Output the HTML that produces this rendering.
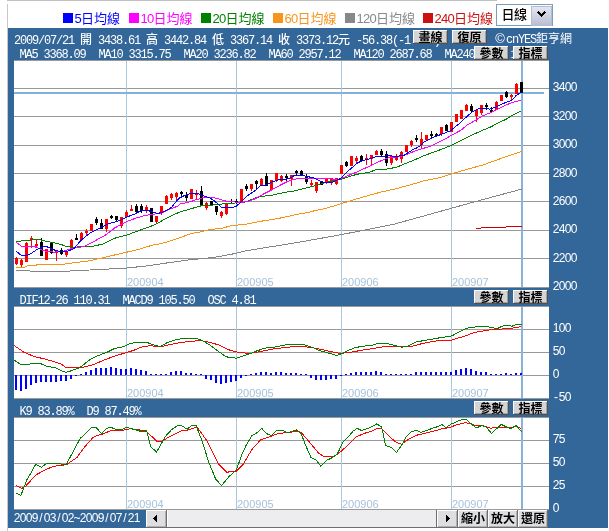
<!DOCTYPE html><html><head><meta charset="utf-8"><title>chart</title><style>html,body{margin:0;padding:0;background:#fff;overflow:hidden}svg{display:block}</style></head><body><svg width="609" height="531" viewBox="0 0 609 531" shape-rendering="crispEdges"><rect x="0" y="0" width="609" height="531" fill="#fff"/>
<rect x="7" y="0" width="490" height="1" fill="#c0c0c0" />
<rect x="7" y="4" width="1" height="527" fill="#c8c8c8" />
<rect x="63.0" y="13" width="10" height="10" fill="#0000ff" />
<text y="22.5" font-size="13" fill="#0000ff" font-family='"Liberation Sans","Noto Sans CJK TC",sans-serif' style="white-space:pre" ><tspan x="74.5 81 94 107">5日均線</tspan></text>
<rect x="129.0" y="13" width="10" height="10" fill="#ff00ff" />
<text y="22.5" font-size="13" fill="#ff00ff" font-family='"Liberation Sans","Noto Sans CJK TC",sans-serif' style="white-space:pre" ><tspan x="140.5 147 153.5 166.5 179.5">10日均線</tspan></text>
<rect x="201.0" y="13" width="10" height="10" fill="#008000" />
<text y="22.5" font-size="13" fill="#008000" font-family='"Liberation Sans","Noto Sans CJK TC",sans-serif' style="white-space:pre" ><tspan x="212.5 219 225.5 238.5 251.5">20日均線</tspan></text>
<rect x="273.0" y="13" width="10" height="10" fill="#f7941d" />
<text y="22.5" font-size="13" fill="#f7941d" font-family='"Liberation Sans","Noto Sans CJK TC",sans-serif' style="white-space:pre" ><tspan x="284.5 291 297.5 310.5 323.5">60日均線</tspan></text>
<rect x="345.0" y="13" width="10" height="10" fill="#888888" />
<text y="22.5" font-size="13" fill="#888888" font-family='"Liberation Sans","Noto Sans CJK TC",sans-serif' style="white-space:pre" ><tspan x="356.5 363 369.5 376 389 402">120日均線</tspan></text>
<rect x="423.0" y="13" width="10" height="10" fill="#cc1111" />
<text y="22.5" font-size="13" fill="#cc1111" font-family='"Liberation Sans","Noto Sans CJK TC",sans-serif' style="white-space:pre" ><tspan x="434.5 441 447.5 454 467 480">240日均線</tspan></text>
<rect x="496" y="4" width="57" height="22" fill="#7f9db9" />
<rect x="497" y="5" width="55" height="20" fill="#ffffff" />
<text y="18.5" font-size="13" fill="#000" font-family='"Liberation Sans","Noto Sans CJK TC",sans-serif' style="white-space:pre" font-weight="500"><tspan x="501.5 514">日線</tspan></text>
<defs><linearGradient id="sg" x1="0" y1="0" x2="0" y2="1"><stop offset="0" stop-color="#e6e8f2"/><stop offset="1" stop-color="#b9bfd3"/></linearGradient></defs>
<rect x="531" y="6" width="20" height="19" fill="url(#sg)" stroke="#b5bccd" stroke-width="1"/>
<path d="M538 12 L541.5 15.5 L545 12" stroke="#000" stroke-width="2" fill="none"/>
<rect x="8" y="28" width="600" height="500" fill="#336699" />
<text y="44" font-size="12" fill="#fff" font-family='"Liberation Mono", monospace' style="white-space:pre" ><tspan x="14 20 26 32 38 44 50 56 62 68 74">2009/07/21 </tspan><tspan x="80" font-family='"Liberation Sans","Noto Sans CJK TC",sans-serif' font-weight='500'>開</tspan><tspan x="92 98 104 110 116 122 128 134 140"> 3438.61 </tspan><tspan x="146" font-family='"Liberation Sans","Noto Sans CJK TC",sans-serif' font-weight='500'>高</tspan><tspan x="158 164 170 176 182 188 194 200 206"> 3442.84 </tspan><tspan x="212" font-family='"Liberation Sans","Noto Sans CJK TC",sans-serif' font-weight='500'>低</tspan><tspan x="224 230 236 242 248 254 260 266 272"> 3367.14 </tspan><tspan x="278" font-family='"Liberation Sans","Noto Sans CJK TC",sans-serif' font-weight='500'>收</tspan><tspan x="290 296 302 308 314 320 326 332"> 3373.12</tspan><tspan x="338" font-family='"Liberation Sans","Noto Sans CJK TC",sans-serif' font-weight='500'>元</tspan><tspan x="350 356 362 368 374 380 386 392 398 404 410 416 422 428 434"> -56.38(-1.64%)</tspan></text>
<text y="58" font-size="12" fill="#fff" font-family='"Liberation Mono", monospace' style="white-space:pre" ><tspan x="19.5 25.5 31.5 37.5 43.5 49.5 55.5 61.5 67.5 73.5 79.5">MA5 3368.09</tspan></text>
<text y="58" font-size="12" fill="#fff" font-family='"Liberation Mono", monospace' style="white-space:pre" ><tspan x="98.5 104.5 110.5 116.5 122.5 128.5 134.5 140.5 146.5 152.5 158.5 164.5">MA10 3315.75</tspan></text>
<text y="58" font-size="12" fill="#fff" font-family='"Liberation Mono", monospace' style="white-space:pre" ><tspan x="183.5 189.5 195.5 201.5 207.5 213.5 219.5 225.5 231.5 237.5 243.5 249.5">MA20 3236.82</tspan></text>
<text y="58" font-size="12" fill="#fff" font-family='"Liberation Mono", monospace' style="white-space:pre" ><tspan x="268.5 274.5 280.5 286.5 292.5 298.5 304.5 310.5 316.5 322.5 328.5 334.5">MA60 2957.12</tspan></text>
<text y="58" font-size="12" fill="#fff" font-family='"Liberation Mono", monospace' style="white-space:pre" ><tspan x="353.5 359.5 365.5 371.5 377.5 383.5 389.5 395.5 401.5 407.5 413.5 419.5 425.5">MA120 2687.68</tspan></text>
<text y="58" font-size="12" fill="#fff" font-family='"Liberation Mono", monospace' style="white-space:pre" ><tspan x="444.5 450.5 456.5 462.5 468.5 474.5 480.5 486.5 492.5 498.5 504.5 510.5 516.5">MA240 2420.11</tspan></text>
<rect x="413" y="30" width="35" height="14" fill="#d4d4d4" />
<rect x="413" y="30" width="35" height="1" fill="#ffffff" />
<rect x="413" y="30" width="1" height="14" fill="#ffffff" />
<rect x="413" y="43" width="35" height="1" fill="#505050" />
<rect x="447" y="30" width="1" height="14" fill="#505050" />
<rect x="414" y="42" width="33" height="1" fill="#a0a0a0" />
<rect x="446" y="31" width="1" height="12" fill="#a0a0a0" />
<text y="41.5" font-size="12" fill="#000" font-family='"Liberation Sans","Noto Sans CJK TC",sans-serif' style="white-space:pre" font-weight="600"><tspan x="418.5 430.5">畫線</tspan></text>
<rect x="452" y="30" width="35" height="14" fill="#d4d4d4" />
<rect x="452" y="30" width="35" height="1" fill="#ffffff" />
<rect x="452" y="30" width="1" height="14" fill="#ffffff" />
<rect x="452" y="43" width="35" height="1" fill="#505050" />
<rect x="486" y="30" width="1" height="14" fill="#505050" />
<rect x="453" y="42" width="33" height="1" fill="#a0a0a0" />
<rect x="485" y="31" width="1" height="12" fill="#a0a0a0" />
<text y="41.5" font-size="12" fill="#000" font-family='"Liberation Sans","Noto Sans CJK TC",sans-serif' style="white-space:pre" font-weight="600"><tspan x="457.5 469.5">復原</tspan></text>
<text x="500" y="43" font-size="13" fill="#fff" text-anchor="middle" font-family="Liberation Sans, sans-serif">©</text>
<text y="43" font-size="12" fill="#fff" font-family='"Liberation Mono", monospace' style="white-space:pre" ><tspan x="506 512 518 524 530">cnYES</tspan><tspan x="536 548 560" font-family='"Liberation Sans","Noto Sans CJK TC",sans-serif'>鉅亨網</tspan></text>
<rect x="14" y="60" width="535" height="228" fill="#fff" />
<rect x="14" y="306" width="535" height="93" fill="#fff" />
<rect x="14" y="417" width="535" height="93" fill="#fff" />
<rect x="14" y="60" width="535" height="1" fill="#999999" />
<rect x="14" y="88" width="535" height="1" fill="#999999" />
<rect x="14" y="116" width="535" height="1" fill="#999999" />
<rect x="14" y="145" width="535" height="1" fill="#999999" />
<rect x="14" y="173" width="535" height="1" fill="#999999" />
<rect x="14" y="201" width="535" height="1" fill="#999999" />
<rect x="14" y="230" width="535" height="1" fill="#999999" />
<rect x="14" y="258" width="535" height="1" fill="#999999" />
<rect x="14" y="287" width="535" height="1" fill="#999999" />
<rect x="14" y="306" width="535" height="1" fill="#999999" />
<rect x="14" y="329" width="535" height="1" fill="#999999" />
<rect x="14" y="352" width="535" height="1" fill="#999999" />
<rect x="14" y="375" width="535" height="1" fill="#999999" />
<rect x="14" y="398" width="535" height="1" fill="#999999" />
<rect x="14" y="417" width="535" height="1" fill="#999999" />
<rect x="14" y="440" width="535" height="1" fill="#999999" />
<rect x="14" y="463" width="535" height="1" fill="#999999" />
<rect x="14" y="486" width="535" height="1" fill="#999999" />
<rect x="14" y="509" width="535" height="1" fill="#999999" />
<rect x="126" y="61" width="1" height="226" fill="#a8c8de" />
<rect x="236" y="61" width="1" height="226" fill="#a8c8de" />
<rect x="341" y="61" width="1" height="226" fill="#a8c8de" />
<rect x="451" y="61" width="1" height="226" fill="#a8c8de" />
<rect x="521" y="61" width="2" height="226" fill="#88b4dc" />
<rect x="126" y="307" width="1" height="91" fill="#a8c8de" />
<rect x="236" y="307" width="1" height="91" fill="#a8c8de" />
<rect x="341" y="307" width="1" height="91" fill="#a8c8de" />
<rect x="451" y="307" width="1" height="91" fill="#a8c8de" />
<rect x="521" y="307" width="2" height="91" fill="#88b4dc" />
<rect x="126" y="418" width="1" height="91" fill="#a8c8de" />
<rect x="236" y="418" width="1" height="91" fill="#a8c8de" />
<rect x="341" y="418" width="1" height="91" fill="#a8c8de" />
<rect x="451" y="418" width="1" height="91" fill="#a8c8de" />
<rect x="521" y="418" width="2" height="91" fill="#88b4dc" />
<text x="127" y="286" font-size="11" fill="#a6c2da" font-family="Liberation Sans, sans-serif">200904</text>
<text x="237" y="286" font-size="11" fill="#a6c2da" font-family="Liberation Sans, sans-serif">200905</text>
<text x="342" y="286" font-size="11" fill="#a6c2da" font-family="Liberation Sans, sans-serif">200906</text>
<text x="452" y="286" font-size="11" fill="#a6c2da" font-family="Liberation Sans, sans-serif">200907</text>
<text x="127" y="397" font-size="11" fill="#a6c2da" font-family="Liberation Sans, sans-serif">200904</text>
<text x="237" y="397" font-size="11" fill="#a6c2da" font-family="Liberation Sans, sans-serif">200905</text>
<text x="342" y="397" font-size="11" fill="#a6c2da" font-family="Liberation Sans, sans-serif">200906</text>
<text x="452" y="397" font-size="11" fill="#a6c2da" font-family="Liberation Sans, sans-serif">200907</text>
<text x="127" y="508" font-size="11" fill="#a6c2da" font-family="Liberation Sans, sans-serif">200904</text>
<text x="237" y="508" font-size="11" fill="#a6c2da" font-family="Liberation Sans, sans-serif">200905</text>
<text x="342" y="508" font-size="11" fill="#a6c2da" font-family="Liberation Sans, sans-serif">200906</text>
<text x="452" y="508" font-size="11" fill="#a6c2da" font-family="Liberation Sans, sans-serif">200907</text>
<rect x="14" y="92" width="530" height="2" fill="#82b2da" />
<rect x="16" y="257" width="1" height="8" fill="#ff0000" />
<rect x="15" y="258" width="3" height="6" fill="#ff0000" />
<rect x="21" y="259" width="1" height="8" fill="#ff0000" />
<rect x="20" y="260" width="3" height="5" fill="#ff0000" />
<rect x="26" y="242" width="1" height="20" fill="#ff0000" />
<rect x="25" y="243" width="3" height="19" fill="#ff0000" />
<rect x="31" y="236" width="1" height="12" fill="#ff0000" />
<rect x="30" y="238" width="3" height="2" fill="#ff0000" />
<rect x="36" y="240" width="1" height="7" fill="#ff0000" />
<rect x="35" y="244" width="3" height="2" fill="#ff0000" />
<rect x="41" y="238" width="1" height="18" fill="#000000" />
<rect x="40" y="242" width="3" height="14" fill="#000000" />
<rect x="46" y="249" width="1" height="11" fill="#ff0000" />
<rect x="45" y="249" width="3" height="11" fill="#ff0000" />
<rect x="51" y="243" width="1" height="11" fill="#000000" />
<rect x="50" y="243" width="3" height="10" fill="#000000" />
<rect x="56" y="251" width="1" height="10" fill="#ff0000" />
<rect x="55" y="251" width="3" height="2" fill="#ff0000" />
<rect x="61" y="248" width="1" height="7" fill="#000000" />
<rect x="60" y="250" width="3" height="4" fill="#000000" />
<rect x="66" y="252" width="1" height="5" fill="#ff0000" />
<rect x="65" y="252" width="3" height="3" fill="#ff0000" />
<rect x="71" y="239" width="1" height="11" fill="#ff0000" />
<rect x="70" y="240" width="3" height="10" fill="#ff0000" />
<rect x="76" y="234" width="1" height="6" fill="#000000" />
<rect x="75" y="238" width="3" height="2" fill="#000000" />
<rect x="81" y="232" width="1" height="8" fill="#ff0000" />
<rect x="80" y="233" width="3" height="7" fill="#ff0000" />
<rect x="86" y="229" width="1" height="7" fill="#ff0000" />
<rect x="85" y="231" width="3" height="2" fill="#ff0000" />
<rect x="91" y="224" width="1" height="7" fill="#ff0000" />
<rect x="90" y="224" width="3" height="7" fill="#ff0000" />
<rect x="96" y="217" width="1" height="8" fill="#000000" />
<rect x="95" y="219" width="3" height="4" fill="#000000" />
<rect x="101" y="219" width="1" height="10" fill="#000000" />
<rect x="100" y="223" width="3" height="6" fill="#000000" />
<rect x="106" y="219" width="1" height="13" fill="#ff0000" />
<rect x="105" y="219" width="3" height="10" fill="#ff0000" />
<rect x="111" y="215" width="1" height="4" fill="#000000" />
<rect x="110" y="216" width="3" height="2" fill="#000000" />
<rect x="116" y="216" width="1" height="5" fill="#000000" />
<rect x="115" y="216" width="3" height="4" fill="#000000" />
<rect x="121" y="217" width="1" height="11" fill="#ff0000" />
<rect x="120" y="217" width="3" height="9" fill="#ff0000" />
<rect x="126" y="210" width="1" height="7" fill="#ff0000" />
<rect x="125" y="212" width="3" height="5" fill="#ff0000" />
<rect x="131" y="205" width="1" height="6" fill="#ff0000" />
<rect x="130" y="209" width="3" height="2" fill="#ff0000" />
<rect x="136" y="204" width="1" height="9" fill="#000000" />
<rect x="135" y="206" width="3" height="6" fill="#000000" />
<rect x="141" y="204" width="1" height="9" fill="#000000" />
<rect x="140" y="206" width="3" height="5" fill="#000000" />
<rect x="146" y="205" width="1" height="8" fill="#ff0000" />
<rect x="145" y="207" width="3" height="3" fill="#ff0000" />
<rect x="151" y="208" width="1" height="14" fill="#000000" />
<rect x="150" y="208" width="3" height="14" fill="#000000" />
<rect x="156" y="216" width="1" height="8" fill="#ff0000" />
<rect x="155" y="216" width="3" height="6" fill="#ff0000" />
<rect x="161" y="206" width="1" height="9" fill="#ff0000" />
<rect x="160" y="206" width="3" height="7" fill="#ff0000" />
<rect x="166" y="195" width="1" height="9" fill="#ff0000" />
<rect x="165" y="196" width="3" height="8" fill="#ff0000" />
<rect x="171" y="193" width="1" height="7" fill="#ff0000" />
<rect x="170" y="194" width="3" height="4" fill="#ff0000" />
<rect x="176" y="192" width="1" height="8" fill="#ff0000" />
<rect x="175" y="193" width="3" height="4" fill="#ff0000" />
<rect x="181" y="191" width="1" height="7" fill="#000000" />
<rect x="180" y="192" width="3" height="2" fill="#000000" />
<rect x="186" y="192" width="1" height="9" fill="#000000" />
<rect x="185" y="195" width="3" height="3" fill="#000000" />
<rect x="191" y="189" width="1" height="10" fill="#ff0000" />
<rect x="190" y="189" width="3" height="10" fill="#ff0000" />
<rect x="196" y="190" width="1" height="9" fill="#ff0000" />
<rect x="195" y="193" width="3" height="2" fill="#ff0000" />
<rect x="201" y="186" width="1" height="19" fill="#000000" />
<rect x="200" y="191" width="3" height="14" fill="#000000" />
<rect x="206" y="202" width="1" height="8" fill="#ff0000" />
<rect x="205" y="203" width="3" height="5" fill="#ff0000" />
<rect x="211" y="201" width="1" height="5" fill="#000000" />
<rect x="210" y="201" width="3" height="5" fill="#000000" />
<rect x="216" y="206" width="1" height="9" fill="#000000" />
<rect x="215" y="206" width="3" height="6" fill="#000000" />
<rect x="221" y="211" width="1" height="7" fill="#ff0000" />
<rect x="220" y="212" width="3" height="4" fill="#ff0000" />
<rect x="226" y="203" width="1" height="12" fill="#ff0000" />
<rect x="225" y="203" width="3" height="11" fill="#ff0000" />
<rect x="231" y="199" width="1" height="5" fill="#000000" />
<rect x="230" y="201" width="3" height="1" fill="#000000" />
<rect x="236" y="199" width="1" height="5" fill="#000000" />
<rect x="235" y="201" width="3" height="1" fill="#000000" />
<rect x="241" y="189" width="1" height="13" fill="#ff0000" />
<rect x="240" y="189" width="3" height="13" fill="#ff0000" />
<rect x="246" y="184" width="1" height="7" fill="#000000" />
<rect x="245" y="186" width="3" height="3" fill="#000000" />
<rect x="251" y="184" width="1" height="7" fill="#ff0000" />
<rect x="250" y="184" width="3" height="5" fill="#ff0000" />
<rect x="256" y="180" width="1" height="9" fill="#000000" />
<rect x="255" y="181" width="3" height="3" fill="#000000" />
<rect x="261" y="178" width="1" height="8" fill="#ff0000" />
<rect x="260" y="179" width="3" height="7" fill="#ff0000" />
<rect x="266" y="173" width="1" height="13" fill="#000000" />
<rect x="265" y="176" width="3" height="10" fill="#000000" />
<rect x="271" y="180" width="1" height="10" fill="#ff0000" />
<rect x="270" y="180" width="3" height="10" fill="#ff0000" />
<rect x="276" y="173" width="1" height="9" fill="#ff0000" />
<rect x="275" y="173" width="3" height="7" fill="#ff0000" />
<rect x="281" y="175" width="1" height="7" fill="#ff0000" />
<rect x="280" y="176" width="3" height="5" fill="#ff0000" />
<rect x="286" y="174" width="1" height="7" fill="#000000" />
<rect x="285" y="176" width="3" height="2" fill="#000000" />
<rect x="291" y="175" width="1" height="11" fill="#ff0000" />
<rect x="290" y="175" width="3" height="4" fill="#ff0000" />
<rect x="296" y="170" width="1" height="5" fill="#000000" />
<rect x="295" y="171" width="3" height="2" fill="#000000" />
<rect x="301" y="170" width="1" height="6" fill="#000000" />
<rect x="300" y="171" width="3" height="4" fill="#000000" />
<rect x="306" y="174" width="1" height="10" fill="#000000" />
<rect x="305" y="176" width="3" height="6" fill="#000000" />
<rect x="311" y="180" width="1" height="7" fill="#ff0000" />
<rect x="310" y="183" width="3" height="2" fill="#ff0000" />
<rect x="316" y="182" width="1" height="11" fill="#ff0000" />
<rect x="315" y="182" width="3" height="9" fill="#ff0000" />
<rect x="321" y="182" width="1" height="3" fill="#000000" />
<rect x="320" y="182" width="3" height="3" fill="#000000" />
<rect x="326" y="178" width="1" height="6" fill="#ff0000" />
<rect x="325" y="178" width="3" height="5" fill="#ff0000" />
<rect x="331" y="178" width="1" height="7" fill="#ff0000" />
<rect x="330" y="178" width="3" height="5" fill="#ff0000" />
<rect x="336" y="178" width="1" height="7" fill="#ff0000" />
<rect x="335" y="178" width="3" height="6" fill="#ff0000" />
<rect x="341" y="165" width="1" height="9" fill="#ff0000" />
<rect x="340" y="165" width="3" height="9" fill="#ff0000" />
<rect x="346" y="161" width="1" height="6" fill="#000000" />
<rect x="345" y="162" width="3" height="4" fill="#000000" />
<rect x="351" y="156" width="1" height="10" fill="#ff0000" />
<rect x="350" y="156" width="3" height="10" fill="#ff0000" />
<rect x="356" y="156" width="1" height="8" fill="#ff0000" />
<rect x="355" y="158" width="3" height="3" fill="#ff0000" />
<rect x="361" y="155" width="1" height="7" fill="#000000" />
<rect x="360" y="156" width="3" height="5" fill="#000000" />
<rect x="366" y="154" width="1" height="11" fill="#ff0000" />
<rect x="365" y="158" width="3" height="2" fill="#ff0000" />
<rect x="371" y="155" width="1" height="10" fill="#ff0000" />
<rect x="370" y="155" width="3" height="4" fill="#ff0000" />
<rect x="376" y="150" width="1" height="5" fill="#ff0000" />
<rect x="375" y="151" width="3" height="4" fill="#ff0000" />
<rect x="381" y="149" width="1" height="7" fill="#000000" />
<rect x="380" y="151" width="3" height="4" fill="#000000" />
<rect x="386" y="151" width="1" height="15" fill="#000000" />
<rect x="385" y="154" width="3" height="9" fill="#000000" />
<rect x="391" y="156" width="1" height="9" fill="#ff0000" />
<rect x="390" y="156" width="3" height="7" fill="#ff0000" />
<rect x="396" y="154" width="1" height="7" fill="#ff0000" />
<rect x="395" y="157" width="3" height="3" fill="#ff0000" />
<rect x="401" y="151" width="1" height="12" fill="#ff0000" />
<rect x="400" y="152" width="3" height="7" fill="#ff0000" />
<rect x="406" y="145" width="1" height="7" fill="#ff0000" />
<rect x="405" y="145" width="3" height="7" fill="#ff0000" />
<rect x="411" y="140" width="1" height="7" fill="#ff0000" />
<rect x="410" y="141" width="3" height="4" fill="#ff0000" />
<rect x="416" y="135" width="1" height="7" fill="#000000" />
<rect x="415" y="138" width="3" height="2" fill="#000000" />
<rect x="421" y="132" width="1" height="16" fill="#ff0000" />
<rect x="420" y="139" width="3" height="6" fill="#ff0000" />
<rect x="426" y="135" width="1" height="6" fill="#ff0000" />
<rect x="425" y="135" width="3" height="5" fill="#ff0000" />
<rect x="431" y="131" width="1" height="7" fill="#000000" />
<rect x="430" y="134" width="3" height="2" fill="#000000" />
<rect x="436" y="133" width="1" height="4" fill="#000000" />
<rect x="435" y="134" width="3" height="2" fill="#000000" />
<rect x="441" y="127" width="1" height="9" fill="#ff0000" />
<rect x="440" y="127" width="3" height="7" fill="#ff0000" />
<rect x="446" y="124" width="1" height="7" fill="#000000" />
<rect x="445" y="125" width="3" height="6" fill="#000000" />
<rect x="451" y="122" width="1" height="10" fill="#ff0000" />
<rect x="450" y="122" width="3" height="10" fill="#ff0000" />
<rect x="456" y="114" width="1" height="8" fill="#ff0000" />
<rect x="455" y="114" width="3" height="8" fill="#ff0000" />
<rect x="461" y="110" width="1" height="9" fill="#ff0000" />
<rect x="460" y="110" width="3" height="9" fill="#ff0000" />
<rect x="466" y="104" width="1" height="7" fill="#ff0000" />
<rect x="465" y="105" width="3" height="6" fill="#ff0000" />
<rect x="471" y="104" width="1" height="8" fill="#000000" />
<rect x="470" y="106" width="3" height="5" fill="#000000" />
<rect x="476" y="109" width="1" height="13" fill="#ff0000" />
<rect x="475" y="110" width="3" height="6" fill="#ff0000" />
<rect x="481" y="105" width="1" height="10" fill="#ff0000" />
<rect x="480" y="105" width="3" height="8" fill="#ff0000" />
<rect x="486" y="103" width="1" height="7" fill="#000000" />
<rect x="485" y="105" width="3" height="2" fill="#000000" />
<rect x="491" y="107" width="1" height="6" fill="#000000" />
<rect x="490" y="110" width="3" height="2" fill="#000000" />
<rect x="496" y="101" width="1" height="9" fill="#ff0000" />
<rect x="495" y="102" width="3" height="8" fill="#ff0000" />
<rect x="501" y="95" width="1" height="6" fill="#ff0000" />
<rect x="500" y="95" width="3" height="6" fill="#ff0000" />
<rect x="506" y="91" width="1" height="7" fill="#000000" />
<rect x="505" y="92" width="3" height="5" fill="#000000" />
<rect x="511" y="94" width="1" height="6" fill="#ff0000" />
<rect x="510" y="95" width="3" height="2" fill="#ff0000" />
<rect x="516" y="83" width="1" height="11" fill="#ff0000" />
<rect x="515" y="84" width="3" height="10" fill="#ff0000" />
<rect x="521" y="82" width="1" height="11" fill="#000000" />
<rect x="520" y="82" width="3" height="11" fill="#000000" />
<polyline points="16.0,270.3 28.8,270.3 30.0,271.0 70.0,271.0 89.7,270.0 109.4,269.0 126.2,268.1 148.8,265.7 168.5,262.7 190.0,259.8 213.6,257.5 235.8,253.4 243.2,251.3 278.7,245.5 308.2,240.6 340.8,234.7 365.0,230.0 394.6,224.0 424.1,215.9 453.7,207.6 483.2,199.5 521.7,189.1" fill="none" stroke="#858585" stroke-width="1" shape-rendering="crispEdges"/>
<polyline points="16.0,267.4 23.9,267.4 28.8,265.4 38.6,264.9 39.6,264.2 63.3,264.2 70.0,263.3 89.7,260.8 109.4,256.2 126.2,252.3 139.0,249.3 152.8,245.0 160.0,243.8 170.7,240.9 180.0,237.7 191.3,233.5 200.0,232.0 211.0,229.2 219.6,228.8 230.7,225.9 249.1,223.7 260.0,221.4 278.7,218.4 290.0,216.0 300.0,213.7 308.2,212.5 315.0,210.6 325.0,208.6 337.8,204.8 355.0,199.3 365.0,196.5 380.0,192.3 394.6,189.1 410.0,185.0 424.1,180.8 440.0,177.7 452.2,173.7 470.0,168.5 483.2,164.9 500.0,158.8 521.7,151.3" fill="none" stroke="#f89410" stroke-width="1" shape-rendering="crispEdges"/>
<polyline points="475.8,228.2 493.6,227.6 521.7,226.2" fill="none" stroke="#cc0000" stroke-width="1" shape-rendering="crispEdges"/>
<polyline points="16.0,241.3 23.9,240.8 32.7,239.8 39.6,239.6 46.5,241.3 53.4,242.7 60.3,244.2 67.2,246.7 74.0,247.3 77.1,247.0 92.8,246.2 103.3,244.0 115.2,238.1 125.7,235.2 127.6,234.8 139.4,230.4 149.3,226.9 156.2,224.0 160.0,222.0 164.6,219.1 172.5,215.1 180.0,212.0 189.9,209.1 199.7,206.1 205.6,205.4 212.5,205.1 219.4,204.1 226.0,203.9 235.9,202.9 245.7,201.9 255.6,198.0 261.5,196.3 270.3,195.5 279.2,193.6 286.0,192.1 293.9,191.0 303.7,188.6 313.6,186.1 323.4,183.2 333.3,180.7 340.0,179.5 351.0,175.9 358.6,174.0 366.1,172.9 369.9,172.1 376.0,169.6 386.4,169.2 396.7,167.2 404.0,164.0 412.3,160.9 422.6,156.3 430.0,153.4 440.4,149.7 450.7,145.6 461.1,140.4 471.5,135.2 481.8,130.6 490.0,127.3 500.0,122.0 506.0,119.3 511.8,115.5 521.3,111.0" fill="none" stroke="#008000" stroke-width="1" shape-rendering="crispEdges"/>
<polyline points="16.0,242.2 21.4,246.2 33.7,246.2 37.6,247.9 43.6,250.8 53.4,252.1 61.3,251.8 74.0,247.9 83.6,246.6 94.1,241.4 105.9,234.8 114.8,227.9 124.6,222.5 134.5,218.6 144.3,215.6 154.2,214.1 160.0,213.4 161.7,212.9 169.6,209.2 177.4,206.3 180.0,204.1 189.9,201.9 194.8,200.2 199.7,198.7 204.6,197.2 213.5,197.7 219.4,199.2 225.0,200.7 226.0,201.5 238.8,202.2 247.7,201.9 255.6,198.5 263.4,194.1 271.3,190.1 279.2,185.7 286.0,182.2 290.9,180.2 298.8,178.2 308.6,178.2 323.4,178.2 333.3,179.2 340.0,179.0 351.0,174.4 358.6,171.4 364.6,168.4 369.9,166.1 376.0,163.1 386.4,158.3 396.7,156.8 403.0,155.8 412.3,152.1 422.6,148.5 430.0,146.6 440.4,141.5 450.7,135.8 461.1,130.1 467.3,124.9 476.6,119.7 482.6,115.8 490.0,112.9 497.5,109.1 505.1,105.4 512.6,102.4 521.3,100.1" fill="none" stroke="#ff00ff" stroke-width="1" shape-rendering="crispEdges"/>
<polyline points="16.0,251.1 21.4,255.5 26.8,255.5 31.7,253.1 37.6,249.1 45.5,246.2 51.4,248.6 56.4,250.8 62.3,251.6 67.2,251.4 74.0,248.6 80.0,241.5 86.0,236.0 91.5,232.2 100.0,227.9 107.9,224.0 119.7,220.5 126.6,217.1 134.5,214.1 140.0,211.2 145.9,210.2 151.8,211.5 157.2,213.6 162.7,212.2 171.5,207.5 177.4,199.9 180.0,197.7 184.9,195.3 189.9,193.8 196.7,193.3 203.6,195.8 209.6,197.7 213.5,200.2 217.4,203.6 221.4,207.1 226.0,207.4 232.9,207.4 236.8,205.9 241.8,201.0 247.7,195.5 254.6,191.1 260.5,185.7 266.4,184.7 271.3,182.2 279.2,179.6 285.0,179.2 289.9,178.2 294.8,175.3 302.7,175.3 307.6,176.7 312.6,177.5 316.5,179.2 321.4,181.7 326.4,182.7 332.3,182.2 336.0,180.5 339.2,179.3 344.0,175.3 347.3,171.7 353.3,166.5 357.8,162.7 362.4,160.8 367.6,159.3 372.9,157.8 376.0,156.8 380.0,156.2 390.0,155.9 396.7,156.2 403.5,155.7 407.1,153.2 412.3,150.0 417.5,147.5 420.6,145.4 423.7,142.3 427.8,140.2 432.0,137.8 440.4,134.7 450.7,130.6 459.0,123.8 466.3,117.1 471.5,112.4 478.7,108.8 484.9,108.3 490.0,109.1 496.0,106.9 501.3,104.2 507.3,102.0 511.8,100.1 514.1,97.8 516.4,95.2 521.3,92.4" fill="none" stroke="#0000ff" stroke-width="1" shape-rendering="crispEdges"/>
<rect x="15" y="375" width="2" height="15" fill="#0000ff" />
<rect x="20" y="375" width="2" height="16" fill="#0000ff" />
<rect x="25" y="375" width="2" height="14" fill="#0000ff" />
<rect x="30" y="375" width="2" height="10" fill="#0000ff" />
<rect x="35" y="375" width="2" height="8" fill="#0000ff" />
<rect x="40" y="375" width="2" height="7" fill="#0000ff" />
<rect x="45" y="375" width="2" height="7" fill="#0000ff" />
<rect x="50" y="375" width="2" height="7" fill="#0000ff" />
<rect x="55" y="375" width="2" height="7" fill="#0000ff" />
<rect x="60" y="375" width="2" height="6" fill="#0000ff" />
<rect x="65" y="375" width="2" height="6" fill="#0000ff" />
<rect x="70" y="375" width="2" height="4" fill="#0000ff" />
<rect x="75" y="375" width="2" height="1" fill="#0000ff" />
<rect x="80" y="374" width="2" height="1" fill="#0000ff" />
<rect x="85" y="372" width="2" height="3" fill="#0000ff" />
<rect x="90" y="370" width="2" height="5" fill="#0000ff" />
<rect x="95" y="368" width="2" height="7" fill="#0000ff" />
<rect x="100" y="368" width="2" height="7" fill="#0000ff" />
<rect x="105" y="368" width="2" height="7" fill="#0000ff" />
<rect x="110" y="367" width="2" height="8" fill="#0000ff" />
<rect x="115" y="368" width="2" height="7" fill="#0000ff" />
<rect x="120" y="369" width="2" height="6" fill="#0000ff" />
<rect x="125" y="369" width="2" height="6" fill="#0000ff" />
<rect x="130" y="368" width="2" height="7" fill="#0000ff" />
<rect x="135" y="369" width="2" height="6" fill="#0000ff" />
<rect x="140" y="370" width="2" height="5" fill="#0000ff" />
<rect x="145" y="371" width="2" height="4" fill="#0000ff" />
<rect x="150" y="374" width="2" height="1" fill="#0000ff" />
<rect x="155" y="374" width="2" height="1" fill="#0000ff" />
<rect x="160" y="374" width="2" height="1" fill="#0000ff" />
<rect x="165" y="374" width="2" height="1" fill="#0000ff" />
<rect x="170" y="372" width="2" height="3" fill="#0000ff" />
<rect x="175" y="371" width="2" height="4" fill="#0000ff" />
<rect x="180" y="371" width="2" height="4" fill="#0000ff" />
<rect x="185" y="373" width="2" height="2" fill="#0000ff" />
<rect x="190" y="373" width="2" height="2" fill="#0000ff" />
<rect x="195" y="374" width="2" height="1" fill="#0000ff" />
<rect x="200" y="374" width="2" height="1" fill="#0000ff" />
<rect x="205" y="375" width="2" height="4" fill="#0000ff" />
<rect x="210" y="375" width="2" height="5" fill="#0000ff" />
<rect x="215" y="375" width="2" height="8" fill="#0000ff" />
<rect x="220" y="375" width="2" height="9" fill="#0000ff" />
<rect x="225" y="375" width="2" height="8" fill="#0000ff" />
<rect x="230" y="375" width="2" height="7" fill="#0000ff" />
<rect x="235" y="375" width="2" height="6" fill="#0000ff" />
<rect x="240" y="375" width="2" height="3" fill="#0000ff" />
<rect x="245" y="375" width="2" height="1" fill="#0000ff" />
<rect x="250" y="374" width="2" height="1" fill="#0000ff" />
<rect x="255" y="373" width="2" height="2" fill="#0000ff" />
<rect x="260" y="372" width="2" height="3" fill="#0000ff" />
<rect x="265" y="372" width="2" height="3" fill="#0000ff" />
<rect x="270" y="373" width="2" height="2" fill="#0000ff" />
<rect x="275" y="372" width="2" height="3" fill="#0000ff" />
<rect x="280" y="372" width="2" height="3" fill="#0000ff" />
<rect x="285" y="373" width="2" height="2" fill="#0000ff" />
<rect x="290" y="373" width="2" height="2" fill="#0000ff" />
<rect x="295" y="373" width="2" height="2" fill="#0000ff" />
<rect x="300" y="374" width="2" height="1" fill="#0000ff" />
<rect x="305" y="374" width="2" height="1" fill="#0000ff" />
<rect x="310" y="375" width="2" height="3" fill="#0000ff" />
<rect x="315" y="375" width="2" height="5" fill="#0000ff" />
<rect x="320" y="375" width="2" height="5" fill="#0000ff" />
<rect x="325" y="375" width="2" height="5" fill="#0000ff" />
<rect x="330" y="375" width="2" height="4" fill="#0000ff" />
<rect x="335" y="375" width="2" height="4" fill="#0000ff" />
<rect x="340" y="375" width="2" height="1" fill="#0000ff" />
<rect x="345" y="374" width="2" height="1" fill="#0000ff" />
<rect x="350" y="373" width="2" height="2" fill="#0000ff" />
<rect x="355" y="372" width="2" height="3" fill="#0000ff" />
<rect x="360" y="372" width="2" height="3" fill="#0000ff" />
<rect x="365" y="372" width="2" height="3" fill="#0000ff" />
<rect x="370" y="372" width="2" height="3" fill="#0000ff" />
<rect x="375" y="371" width="2" height="4" fill="#0000ff" />
<rect x="380" y="372" width="2" height="3" fill="#0000ff" />
<rect x="385" y="374" width="2" height="1" fill="#0000ff" />
<rect x="390" y="374" width="2" height="1" fill="#0000ff" />
<rect x="395" y="374" width="2" height="1" fill="#0000ff" />
<rect x="400" y="374" width="2" height="1" fill="#0000ff" />
<rect x="405" y="374" width="2" height="1" fill="#0000ff" />
<rect x="410" y="374" width="2" height="1" fill="#0000ff" />
<rect x="415" y="372" width="2" height="3" fill="#0000ff" />
<rect x="420" y="372" width="2" height="3" fill="#0000ff" />
<rect x="425" y="372" width="2" height="3" fill="#0000ff" />
<rect x="430" y="372" width="2" height="3" fill="#0000ff" />
<rect x="435" y="372" width="2" height="3" fill="#0000ff" />
<rect x="440" y="372" width="2" height="3" fill="#0000ff" />
<rect x="445" y="372" width="2" height="3" fill="#0000ff" />
<rect x="450" y="372" width="2" height="3" fill="#0000ff" />
<rect x="455" y="370" width="2" height="5" fill="#0000ff" />
<rect x="460" y="369" width="2" height="6" fill="#0000ff" />
<rect x="465" y="368" width="2" height="7" fill="#0000ff" />
<rect x="470" y="369" width="2" height="6" fill="#0000ff" />
<rect x="475" y="371" width="2" height="4" fill="#0000ff" />
<rect x="480" y="372" width="2" height="3" fill="#0000ff" />
<rect x="485" y="372" width="2" height="3" fill="#0000ff" />
<rect x="490" y="374" width="2" height="1" fill="#0000ff" />
<rect x="495" y="374" width="2" height="1" fill="#0000ff" />
<rect x="500" y="374" width="2" height="1" fill="#0000ff" />
<rect x="505" y="373" width="2" height="2" fill="#0000ff" />
<rect x="510" y="374" width="2" height="1" fill="#0000ff" />
<rect x="515" y="373" width="2" height="2" fill="#0000ff" />
<rect x="520" y="373" width="2" height="2" fill="#0000ff" />
<polyline points="14.0,345.4 24.0,352.3 34.0,356.5 44.0,358.8 54.0,361.6 62.0,364.5 66.0,367.5 82.0,367.5 94.0,364.5 104.0,360.0 114.0,356.4 124.0,353.2 134.0,350.3 140.0,347.4 150.0,345.6 156.0,346.4 162.0,346.4 170.0,344.5 180.0,342.6 190.0,341.5 200.0,340.5 210.0,342.3 220.0,345.4 230.0,350.3 240.0,352.7 250.0,353.3 260.0,351.6 275.0,348.7 290.0,347.0 302.0,346.4 315.0,348.1 330.0,351.4 340.0,353.3 350.0,352.5 360.0,350.5 366.0,349.5 372.0,348.7 382.0,347.0 392.0,346.4 402.0,346.4 412.0,346.4 422.0,343.6 432.0,341.5 442.0,340.4 450.0,340.7 455.0,339.0 465.0,336.1 472.0,333.2 480.0,331.4 490.0,329.9 500.0,329.1 510.0,328.5 521.5,326.5" fill="none" stroke="#ff0000" stroke-width="1" shape-rendering="crispEdges"/>
<polyline points="14.0,360.0 20.0,364.1 28.0,364.3 34.0,363.3 40.0,363.3 46.0,366.0 56.0,368.0 62.0,371.0 66.0,372.3 70.0,371.2 80.0,367.5 90.0,359.6 98.0,355.6 106.0,352.7 114.0,348.7 124.0,346.5 130.0,343.4 140.0,342.0 146.0,342.0 152.0,344.5 160.0,346.4 168.0,342.3 178.0,339.2 186.0,338.3 196.0,338.3 204.0,341.3 212.0,346.5 220.0,352.5 226.0,356.8 236.0,358.2 244.0,355.8 250.0,353.8 256.0,351.2 265.0,348.1 275.0,347.0 285.0,345.0 295.0,344.4 304.0,344.8 312.0,347.2 320.0,350.7 330.0,353.5 337.0,355.6 343.0,352.9 350.0,349.7 356.0,347.4 366.0,345.8 372.0,345.4 378.0,343.2 386.0,343.2 392.0,344.8 402.0,347.2 408.0,346.0 416.0,342.0 426.0,340.2 436.0,338.4 446.0,336.8 452.0,335.8 458.0,332.5 465.0,329.1 470.0,327.2 480.0,326.8 488.0,326.8 494.0,328.0 498.0,328.2 502.0,326.2 506.0,325.3 512.0,326.2 516.0,324.5 521.5,324.3" fill="none" stroke="#008000" stroke-width="1" shape-rendering="crispEdges"/>
<polyline points="16.0,485.6 21.9,488.3 25.8,486.0 35.7,475.1 43.6,470.6 51.4,467.2 59.3,465.3 66.2,464.9 77.0,457.4 84.9,446.6 92.8,437.7 96.8,435.7 101.7,434.3 110.6,430.8 122.4,430.4 130.0,428.8 137.9,429.8 145.8,430.8 156.6,441.0 162.5,441.0 169.4,436.7 181.2,430.8 187.1,430.4 197.0,426.9 206.8,440.6 218.7,464.3 226.6,472.2 236.4,471.2 243.3,464.3 246.0,459.4 251.9,449.5 260.8,439.7 269.6,436.7 279.5,433.2 287.4,432.8 296.2,431.2 301.2,432.4 309.0,441.6 318.9,453.5 324.8,456.8 332.7,456.8 338.6,453.5 348.5,444.6 356.3,436.7 366.0,432.8 369.9,431.8 377.8,428.4 381.7,428.4 389.6,436.7 396.5,442.6 401.4,444.2 409.3,438.7 417.2,435.1 427.0,432.8 436.9,430.4 442.8,428.4 448.7,427.8 456.6,424.9 465.1,422.6 471.0,424.1 476.2,425.6 482.9,425.6 490.2,428.1 497.6,427.6 505.0,427.3 510.9,427.6 516.1,426.2 521.5,428.5" fill="none" stroke="#ff0000" stroke-width="1" shape-rendering="crispEdges"/>
<polyline points="16.0,492.9 20.9,495.4 26.8,480.0 30.7,473.2 35.7,464.3 41.6,467.2 46.5,463.7 59.3,463.7 66.2,464.7 72.1,453.5 80.0,438.7 91.8,427.2 95.8,427.2 101.7,433.7 106.6,428.4 110.6,427.2 115.5,429.2 122.4,429.2 126.3,427.2 130.0,428.4 135.9,429.8 141.8,431.8 146.7,430.8 150.7,446.6 156.6,452.1 165.5,436.3 171.4,429.8 177.3,425.9 181.2,425.3 187.1,429.2 192.1,425.3 196.0,425.3 201.9,440.6 208.8,462.3 215.7,479.1 221.6,485.6 228.5,477.1 236.4,469.8 242.3,453.5 246.0,445.6 251.9,435.7 255.9,433.7 261.8,428.4 266.7,433.7 271.6,435.7 276.5,430.4 282.5,430.4 286.4,432.4 291.3,431.8 296.2,429.8 301.2,433.7 306.1,446.6 311.0,457.4 316.0,460.0 320.9,466.3 326.8,460.3 332.7,457.4 337.6,453.5 342.6,442.6 348.5,436.7 353.4,430.8 357.3,428.4 361.3,430.4 366.9,428.8 371.9,426.5 376.8,423.9 381.7,427.2 385.6,445.6 391.6,447.5 396.5,452.5 401.4,445.6 406.3,436.7 411.3,431.8 416.2,430.4 421.1,432.4 427.0,430.4 432.0,428.4 436.9,426.9 441.8,424.5 445.9,427.6 451.1,424.1 455.5,422.2 460.7,420.0 465.9,419.2 471.0,423.6 476.2,428.1 481.4,425.6 486.5,427.3 491.4,433.3 496.2,429.1 501.3,424.4 505.8,426.6 510.9,428.5 516.1,425.6 521.5,431.8" fill="none" stroke="#008000" stroke-width="1" shape-rendering="crispEdges"/>
<text y="290" font-size="12" fill="#fff" font-family='"Liberation Sans", sans-serif' style="white-space:pre"  text-anchor="middle"><tspan x="556 562 568 574">2000</tspan></text>
<text y="261.62" font-size="12" fill="#fff" font-family='"Liberation Sans", sans-serif' style="white-space:pre"  text-anchor="middle"><tspan x="556 562 568 574">2200</tspan></text>
<text y="233.25" font-size="12" fill="#fff" font-family='"Liberation Sans", sans-serif' style="white-space:pre"  text-anchor="middle"><tspan x="556 562 568 574">2400</tspan></text>
<text y="204.88" font-size="12" fill="#fff" font-family='"Liberation Sans", sans-serif' style="white-space:pre"  text-anchor="middle"><tspan x="556 562 568 574">2600</tspan></text>
<text y="176.5" font-size="12" fill="#fff" font-family='"Liberation Sans", sans-serif' style="white-space:pre"  text-anchor="middle"><tspan x="556 562 568 574">2800</tspan></text>
<text y="148.12" font-size="12" fill="#fff" font-family='"Liberation Sans", sans-serif' style="white-space:pre"  text-anchor="middle"><tspan x="556 562 568 574">3000</tspan></text>
<text y="119.75" font-size="12" fill="#fff" font-family='"Liberation Sans", sans-serif' style="white-space:pre"  text-anchor="middle"><tspan x="556 562 568 574">3200</tspan></text>
<text y="91.38" font-size="12" fill="#fff" font-family='"Liberation Sans", sans-serif' style="white-space:pre"  text-anchor="middle"><tspan x="556 562 568 574">3400</tspan></text>
<text y="332" font-size="12" fill="#fff" font-family='"Liberation Sans", sans-serif' style="white-space:pre"  text-anchor="middle"><tspan x="556 562 568">100</tspan></text>
<text y="355" font-size="12" fill="#fff" font-family='"Liberation Sans", sans-serif' style="white-space:pre"  text-anchor="middle"><tspan x="556 562">50</tspan></text>
<text y="378" font-size="12" fill="#fff" font-family='"Liberation Sans", sans-serif' style="white-space:pre"  text-anchor="middle"><tspan x="556">0</tspan></text>
<text y="401" font-size="12" fill="#fff" font-family='"Liberation Sans", sans-serif' style="white-space:pre"  text-anchor="middle"><tspan x="556 562 568">-50</tspan></text>
<text y="443" font-size="12" fill="#fff" font-family='"Liberation Sans", sans-serif' style="white-space:pre"  text-anchor="middle"><tspan x="556 562">75</tspan></text>
<text y="466" font-size="12" fill="#fff" font-family='"Liberation Sans", sans-serif' style="white-space:pre"  text-anchor="middle"><tspan x="556 562">50</tspan></text>
<text y="489" font-size="12" fill="#fff" font-family='"Liberation Sans", sans-serif' style="white-space:pre"  text-anchor="middle"><tspan x="556 562">25</tspan></text>
<text y="512" font-size="12" fill="#fff" font-family='"Liberation Sans", sans-serif' style="white-space:pre"  text-anchor="middle"><tspan x="556">0</tspan></text>
<text y="304" font-size="12" fill="#fff" font-family='"Liberation Mono", monospace' style="white-space:pre" ><tspan x="19.5 25.5 31.5 37.5 43.5 49.5 55.5 61.5 67.5 73.5 79.5 85.5 91.5 97.5 103.5">DIF12-26 110.31</tspan></text>
<text y="304" font-size="12" fill="#fff" font-family='"Liberation Mono", monospace' style="white-space:pre" ><tspan x="122.5 128.5 134.5 140.5 146.5 152.5 158.5 164.5 170.5 176.5 182.5 188.5">MACD9 105.50</tspan></text>
<text y="304" font-size="12" fill="#fff" font-family='"Liberation Mono", monospace' style="white-space:pre" ><tspan x="207.5 213.5 219.5 225.5 231.5 237.5 243.5 249.5">OSC 4.81</tspan></text>
<text y="415" font-size="12" fill="#fff" font-family='"Liberation Mono", monospace' style="white-space:pre" ><tspan x="19.5 25.5 31.5 37.5 43.5 49.5 55.5 61.5 67.5">K9 83.89%</tspan></text>
<text y="415" font-size="12" fill="#fff" font-family='"Liberation Mono", monospace' style="white-space:pre" ><tspan x="86.5 92.5 98.5 104.5 110.5 116.5 122.5 128.5 134.5">D9 87.49%</tspan></text>
<rect x="474" y="46" width="35" height="14" fill="#d4d4d4" />
<rect x="474" y="46" width="35" height="1" fill="#ffffff" />
<rect x="474" y="46" width="1" height="14" fill="#ffffff" />
<rect x="474" y="59" width="35" height="1" fill="#505050" />
<rect x="508" y="46" width="1" height="14" fill="#505050" />
<rect x="475" y="58" width="33" height="1" fill="#a0a0a0" />
<rect x="507" y="47" width="1" height="12" fill="#a0a0a0" />
<text y="57.5" font-size="12" fill="#000" font-family='"Liberation Sans","Noto Sans CJK TC",sans-serif' style="white-space:pre" font-weight="600"><tspan x="479.5 491.5">參數</tspan></text>
<rect x="513" y="46" width="35" height="14" fill="#d4d4d4" />
<rect x="513" y="46" width="35" height="1" fill="#ffffff" />
<rect x="513" y="46" width="1" height="14" fill="#ffffff" />
<rect x="513" y="59" width="35" height="1" fill="#505050" />
<rect x="547" y="46" width="1" height="14" fill="#505050" />
<rect x="514" y="58" width="33" height="1" fill="#a0a0a0" />
<rect x="546" y="47" width="1" height="12" fill="#a0a0a0" />
<text y="57.5" font-size="12" fill="#000" font-family='"Liberation Sans","Noto Sans CJK TC",sans-serif' style="white-space:pre" font-weight="600"><tspan x="518.5 530.5">指標</tspan></text>
<rect x="474" y="290" width="35" height="14" fill="#d4d4d4" />
<rect x="474" y="290" width="35" height="1" fill="#ffffff" />
<rect x="474" y="290" width="1" height="14" fill="#ffffff" />
<rect x="474" y="303" width="35" height="1" fill="#505050" />
<rect x="508" y="290" width="1" height="14" fill="#505050" />
<rect x="475" y="302" width="33" height="1" fill="#a0a0a0" />
<rect x="507" y="291" width="1" height="12" fill="#a0a0a0" />
<text y="301.5" font-size="12" fill="#000" font-family='"Liberation Sans","Noto Sans CJK TC",sans-serif' style="white-space:pre" font-weight="600"><tspan x="479.5 491.5">參數</tspan></text>
<rect x="513" y="290" width="35" height="14" fill="#d4d4d4" />
<rect x="513" y="290" width="35" height="1" fill="#ffffff" />
<rect x="513" y="290" width="1" height="14" fill="#ffffff" />
<rect x="513" y="303" width="35" height="1" fill="#505050" />
<rect x="547" y="290" width="1" height="14" fill="#505050" />
<rect x="514" y="302" width="33" height="1" fill="#a0a0a0" />
<rect x="546" y="291" width="1" height="12" fill="#a0a0a0" />
<text y="301.5" font-size="12" fill="#000" font-family='"Liberation Sans","Noto Sans CJK TC",sans-serif' style="white-space:pre" font-weight="600"><tspan x="518.5 530.5">指標</tspan></text>
<rect x="474" y="401" width="35" height="14" fill="#d4d4d4" />
<rect x="474" y="401" width="35" height="1" fill="#ffffff" />
<rect x="474" y="401" width="1" height="14" fill="#ffffff" />
<rect x="474" y="414" width="35" height="1" fill="#505050" />
<rect x="508" y="401" width="1" height="14" fill="#505050" />
<rect x="475" y="413" width="33" height="1" fill="#a0a0a0" />
<rect x="507" y="402" width="1" height="12" fill="#a0a0a0" />
<text y="412.5" font-size="12" fill="#000" font-family='"Liberation Sans","Noto Sans CJK TC",sans-serif' style="white-space:pre" font-weight="600"><tspan x="479.5 491.5">參數</tspan></text>
<rect x="513" y="401" width="35" height="14" fill="#d4d4d4" />
<rect x="513" y="401" width="35" height="1" fill="#ffffff" />
<rect x="513" y="401" width="1" height="14" fill="#ffffff" />
<rect x="513" y="414" width="35" height="1" fill="#505050" />
<rect x="547" y="401" width="1" height="14" fill="#505050" />
<rect x="514" y="413" width="33" height="1" fill="#a0a0a0" />
<rect x="546" y="402" width="1" height="12" fill="#a0a0a0" />
<text y="412.5" font-size="12" fill="#000" font-family='"Liberation Sans","Noto Sans CJK TC",sans-serif' style="white-space:pre" font-weight="600"><tspan x="518.5 530.5">指標</tspan></text>
<text y="522" font-size="12" fill="#fff" font-family='"Liberation Sans", sans-serif' style="white-space:pre"  text-anchor="middle"><tspan x="17 23 29 35 41 47 53 59 65 71 77 83 89 95 101 107 113 119 125 131 137">2009/03/02~2009/07/21</tspan></text>
<rect x="167" y="510" width="270" height="18" fill="#ededef" />
<rect x="167" y="510" width="1" height="18" fill="#ffffff" />
<rect x="167" y="527" width="270" height="1" fill="#6e6e6e" />
<rect x="436" y="510" width="1" height="18" fill="#6e6e6e" />
<rect x="146" y="510" width="21" height="18" fill="#dedee2" />
<rect x="146" y="510" width="21" height="1" fill="#ffffff" />
<rect x="146" y="510" width="1" height="18" fill="#ffffff" />
<rect x="146" y="527" width="21" height="1" fill="#6e6e6e" />
<rect x="166" y="510" width="1" height="18" fill="#6e6e6e" />
<rect x="147" y="526" width="19" height="1" fill="#b0b0b0" />
<rect x="165" y="511" width="1" height="16" fill="#b0b0b0" />
<rect x="437" y="510" width="21" height="18" fill="#dedee2" />
<rect x="437" y="510" width="21" height="1" fill="#ffffff" />
<rect x="437" y="510" width="1" height="18" fill="#ffffff" />
<rect x="437" y="527" width="21" height="1" fill="#6e6e6e" />
<rect x="457" y="510" width="1" height="18" fill="#6e6e6e" />
<rect x="438" y="526" width="19" height="1" fill="#b0b0b0" />
<rect x="456" y="511" width="1" height="16" fill="#b0b0b0" />
<path d="M157 514.5 L153 518.5 L157 522.5 Z" fill="#000"/>
<path d="M446 514.5 L450 518.5 L446 522.5 Z" fill="#000"/>
<rect x="458" y="510" width="30" height="18" fill="#dedee2" />
<rect x="458" y="510" width="30" height="1" fill="#ffffff" />
<rect x="458" y="510" width="1" height="18" fill="#ffffff" />
<rect x="458" y="527" width="30" height="1" fill="#6e6e6e" />
<rect x="487" y="510" width="1" height="18" fill="#6e6e6e" />
<rect x="459" y="526" width="28" height="1" fill="#b0b0b0" />
<rect x="486" y="511" width="1" height="16" fill="#b0b0b0" />
<text y="523" font-size="12" fill="#000" font-family='"Liberation Sans","Noto Sans CJK TC",sans-serif' style="white-space:pre" font-weight="600"><tspan x="461 473">縮小</tspan></text>
<rect x="488" y="510" width="30" height="18" fill="#dedee2" />
<rect x="488" y="510" width="30" height="1" fill="#ffffff" />
<rect x="488" y="510" width="1" height="18" fill="#ffffff" />
<rect x="488" y="527" width="30" height="1" fill="#6e6e6e" />
<rect x="517" y="510" width="1" height="18" fill="#6e6e6e" />
<rect x="489" y="526" width="28" height="1" fill="#b0b0b0" />
<rect x="516" y="511" width="1" height="16" fill="#b0b0b0" />
<text y="523" font-size="12" fill="#000" font-family='"Liberation Sans","Noto Sans CJK TC",sans-serif' style="white-space:pre" font-weight="600"><tspan x="491 503">放大</tspan></text>
<rect x="518" y="510" width="30" height="18" fill="#dedee2" />
<rect x="518" y="510" width="30" height="1" fill="#ffffff" />
<rect x="518" y="510" width="1" height="18" fill="#ffffff" />
<rect x="518" y="527" width="30" height="1" fill="#6e6e6e" />
<rect x="547" y="510" width="1" height="18" fill="#6e6e6e" />
<rect x="519" y="526" width="28" height="1" fill="#b0b0b0" />
<rect x="546" y="511" width="1" height="16" fill="#b0b0b0" />
<text y="523" font-size="12" fill="#000" font-family='"Liberation Sans","Noto Sans CJK TC",sans-serif' style="white-space:pre" font-weight="600"><tspan x="521 533">還原</tspan></text></svg></body></html>
